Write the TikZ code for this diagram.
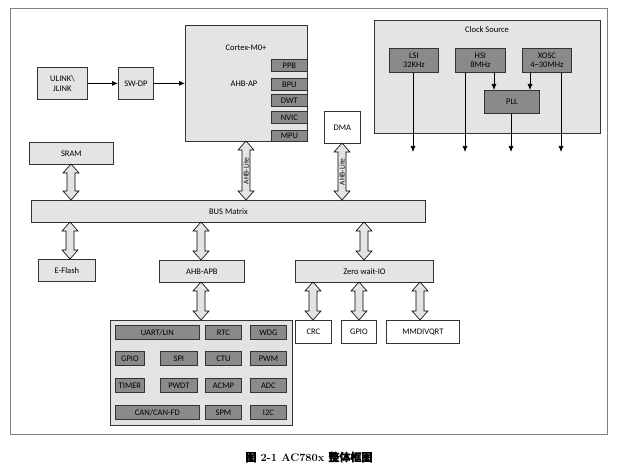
\documentclass[tikz,border=0pt]{standalone}
\usepackage{fontspec}
\usetikzlibrary{arrows.meta}
\newfontfamily\calfnt{Carlito}
\newfontfamily\cjkfnt{Noto Sans CJK SC}[FakeBold=1.5]
\definecolor{lg}{HTML}{E4E4E4}
\definecolor{dg}{HTML}{8A8A8A}
\newcommand{\bx}[7]{\node[#2,minimum width={(#5-#3)*1pt},minimum height={(#6-#4)*1pt},anchor=north west] (#1) at (#3,#4) {#7};}
\newcommand{\dbl}[3]{\draw[fill=lg,line width=0.6pt] (#1,#2) -- (#1+8,#2+9) -- (#1+4,#2+9) -- (#1+4,#3-9) -- (#1+8,#3-9) -- (#1,#3) -- (#1-8,#3-9) -- (#1-4,#3-9) -- (#1-4,#2+9) -- (#1-8,#2+9) -- cycle;}
\begin{document}
\begin{tikzpicture}[x=1pt,y=-1pt,
 base/.style={draw=black!80,line width=0.8pt,inner sep=0pt,font=\calfnt\fontsize{8.5}{9.5}\selectfont,align=center},
 lb/.style={base,fill=lg},
 db/.style={base,fill=dg},
 wb/.style={base,fill=white},
 tx/.style={font=\calfnt\fontsize{8.5}{9.5}\selectfont},
 ar/.style={-{Latex[length=6pt,width=5pt]},line width=0.7pt}]
\useasboundingbox (0,0) rectangle (618,470);
\draw[black!50,line width=0.8pt] (10,8) rectangle (607,434);
% Cortex
\bx{cm}{lb}{185}{25}{307}{141}{}
\node[tx] at (246,48) {Cortex-M0+};
\node[tx] at (244,84) {AHB-AP};
\bx{ppb}{db}{271}{59}{307}{71}{PPB}
\bx{bpu}{db}{271}{78}{307}{90}{BPU}
\bx{dwt}{db}{271}{94}{307}{106}{DWT}
\bx{nvic}{db}{271}{111}{307}{123}{NVIC}
\bx{mpu}{db}{271}{130}{307}{141}{MPU}
\bx{ul}{lb}{37}{67}{87}{99}{ULINK\textbackslash\\JLINK}
\bx{sw}{lb}{118}{67}{153}{99}{SW-DP}
\draw[ar] (ul) -- (sw);
\draw[ar] (sw.east) -- (sw.east -| cm.west);
\bx{dma}{wb}{324}{111}{360}{143}{DMA}
\bx{sram}{lb}{29}{142}{113}{164}{SRAM}
\bx{bus}{lb}{31}{200}{425}{222}{BUS Matrix}
\dbl{71}{164}{200}
\dbl{246}{141}{200}
\dbl{342}{143}{200}
\node[rotate=90,font=\calfnt\fontsize{7.5}{8}\selectfont] (l1) at (246,171) {AHB-Lite};
\node[rotate=90,font=\calfnt\fontsize{7.5}{8}\selectfont] (l2) at (342,172) {AHB-Lite};
\bx{ef}{lb}{38}{259}{95}{281}{E-Flash}
\bx{apb}{lb}{159}{260}{244}{282}{AHB-APB}
\bx{zw}{lb}{295}{260}{433}{282}{Zero wait-IO}
\dbl{70}{222}{259}
\dbl{201}{222}{260}
\dbl{364}{222}{260}
% peripherals
\bx{per}{base,fill=lg!80!gray!60}{110}{320}{292}{425}{}
\dbl{201}{282}{320}
\bx{uart}{db}{115}{325}{199}{339}{UART/LIN}
\bx{rtc}{db}{205}{325}{241}{339}{RTC}
\bx{wdg}{db}{250}{325}{286}{339}{WDG}
\bx{gp1}{db}{115}{351}{144}{365}{GPIO}
\bx{spi}{db}{160}{351}{197}{365}{SPI}
\bx{ctu}{db}{205}{351}{241}{365}{CTU}
\bx{pwm}{db}{250}{351}{286}{365}{PWM}
\bx{tim}{db}{115}{378}{144}{392}{TIMER}
\bx{pwdt}{db}{160}{378}{197}{392}{PWDT}
\bx{acmp}{db}{205}{378}{241}{392}{ACMP}
\bx{adc}{db}{250}{378}{286}{392}{ADC}
\bx{can}{db}{115}{405}{199}{419}{CAN/CAN-FD}
\bx{spm}{db}{205}{405}{241}{419}{SPM}
\bx{i2c}{db}{250}{405}{286}{419}{I2C}
\bx{crc}{wb}{295}{320}{331}{343}{CRC}
\bx{gp2}{wb}{341}{320}{376}{343}{GPIO}
\bx{mm}{wb}{386}{320}{459}{343}{MMDIVQRT}
\dbl{313}{282}{320}
\dbl{359}{282}{320}
\dbl{420}{282}{320}
% clock
\bx{clk}{lb}{374}{20}{600}{133}{}
\node[tx] at (487,30) {Clock Source};
\bx{lsi}{db}{389}{48}{438}{72}{LSI\\32KHz}
\bx{hsi}{db}{455}{48}{505}{72}{HSI\\8MHz}
\bx{xo}{db}{522}{48}{571}{72}{XOSC\\4\textasciitilde30MHz}
\bx{pll}{db}{484}{90}{539}{113}{PLL}
\coordinate (c1) at (413,152);
\coordinate (c2) at (465,152);
\coordinate (c3) at (511,152);
\coordinate (c4) at (561,152);
\draw[ar] (lsi.south -| c1) -- (c1);
\draw[ar] (hsi.south -| c2) -- (c2);
\draw[ar] (pll.south -| c3) -- (c3);
\draw[ar] (xo.south -| c4) -- (c4);
\draw[ar] (494,72) -- (494,90);
\draw[ar] (530,72) -- (530,90);
\node[font=\bfseries\fontsize{11}{12}\selectfont] at (309,457) {{\cjkfnt 图} 2-1 AC780x {\cjkfnt 整体框图}};
\end{tikzpicture}
\end{document}
